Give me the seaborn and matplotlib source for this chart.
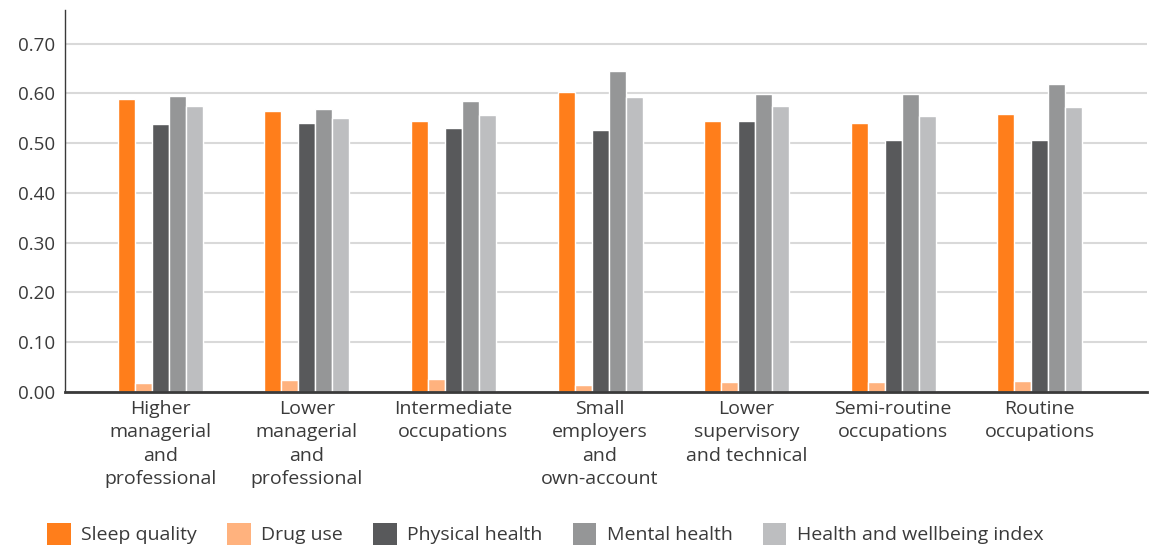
import matplotlib
matplotlib.use("Agg")
import matplotlib.pyplot as plt
import seaborn as sns
import pandas as pd
from matplotlib.patches import Patch

categories = [
    "Higher\nmanagerial\nand\nprofessional",
    "Lower\nmanagerial\nand\nprofessional",
    "Intermediate\noccupations",
    "Small\nemployers\nand\nown-account",
    "Lower\nsupervisory\nand technical",
    "Semi-routine\noccupations",
    "Routine\noccupations",
]
measures = ["Sleep quality", "Drug use", "Physical health", "Mental health",
            "Health and wellbeing index"]
sleep_quality = [0.589, 0.565, 0.545, 0.603, 0.545, 0.541, 0.559]
drug_use = [0.018, 0.023, 0.025, 0.014, 0.020, 0.020, 0.021]
physical_health = [0.539, 0.541, 0.530, 0.526, 0.545, 0.506, 0.506]
mental_health = [0.595, 0.569, 0.585, 0.645, 0.599, 0.599, 0.619]
wellbeing_index = [0.575, 0.551, 0.557, 0.593, 0.575, 0.555, 0.573]
yticks = [0.0, 0.1, 0.2, 0.3, 0.4, 0.5, 0.6, 0.7]

colors = ["#FF7E1B", "#FFB27E", "#58595B", "#959697", "#BDBEC0"]

series = [sleep_quality, drug_use, physical_health, mental_health, wellbeing_index]
rows = []
for m, vals in zip(measures, series):
    for c, v in zip(categories, vals):
        rows.append({"cat": c, "measure": m, "value": v})
df = pd.DataFrame(rows)

sns.set_theme(style="white")
plt.rcParams["font.family"] = ["Open Sans", "DejaVu Sans"]

fig = plt.figure(figsize=(11.49, 5.46), dpi=100)
ax = fig.add_axes([0.0566, 0.2826, 0.9414, 0.6994])

sns.barplot(data=df, x="cat", y="value", hue="measure", order=categories,
            hue_order=measures, palette=colors, width=0.58, gap=0,
            edgecolor="white", linewidth=1.0, saturation=1, ax=ax,
            legend=False, errorbar=None)

ax.set_xlim(-0.65, 6.73)
ax.set_ylim(0, 0.768)
ax.set_yticks(yticks)
ax.set_yticklabels([f"{t:.2f}" for t in yticks])
ax.yaxis.grid(True, color="#D9D9D9", linewidth=1.5)
ax.set_axisbelow(True)
ax.set_xlabel("")
ax.set_ylabel("")
for s in ["top", "right"]:
    ax.spines[s].set_visible(False)
ax.spines["left"].set_color("#3a3a3a")
ax.spines["left"].set_linewidth(1.0)
ax.spines["bottom"].set_color("#3a3a3a")
ax.spines["bottom"].set_linewidth(2.0)
ax.tick_params(axis="y", length=0, labelsize=13.5, colors="#3a3a3a", pad=7)
ax.tick_params(axis="x", length=0, labelsize=14, colors="#3a3a3a", pad=6)
for lab in ax.get_xticklabels():
    lab.set_linespacing(1.38)
    lab.set_multialignment("center")

handles = [Patch(facecolor=c, edgecolor="none") for c in colors]
fig.legend(handles, measures, loc="lower left", bbox_to_anchor=(0.026, -0.03),
           ncol=5, frameon=False, fontsize=14, handlelength=1.2,
           handleheight=1.35, handletextpad=0.55, columnspacing=1.55,
           labelcolor="#3a3a3a")

fig.savefig("out.png", dpi=100)
